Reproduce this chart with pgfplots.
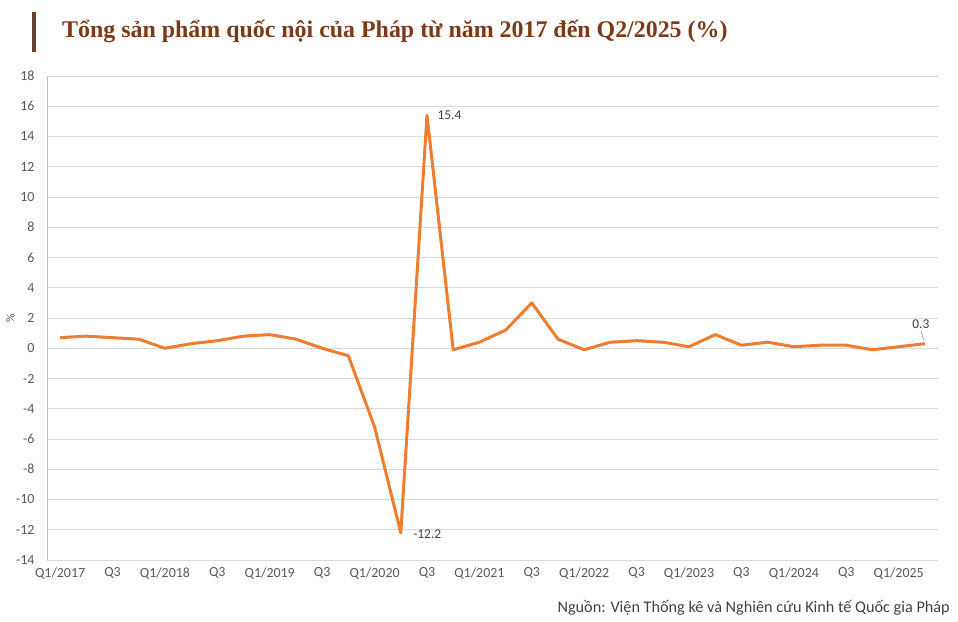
\documentclass[border=0pt]{standalone}
\usepackage{pgfplots}
\pgfplotsset{compat=1.18}
\usepackage{fontspec}
\setmainfont{Carlito}
\newfontfamily\titlefont{Liberation Serif}
\usetikzlibrary{calc}
\definecolor{gdpline}{HTML}{ED7D31}
\definecolor{titlebrown}{HTML}{7B3A17}
\definecolor{titlebar}{HTML}{654232}
\definecolor{gridgray}{HTML}{D9D9D9}
\definecolor{axistan}{HTML}{DDB992}
\definecolor{ticktext}{HTML}{595959}
\definecolor{labeltext}{HTML}{404040}

\pgfplotstableread{
idx val
0 0.7
1 0.8
2 0.7
3 0.6
4 0.0
5 0.3
6 0.5
7 0.8
8 0.9
9 0.6
10 0.0
11 -0.5
12 -5.2
13 -12.2
14 15.4
15 -0.1
16 0.4
17 1.2
18 3.0
19 0.6
20 -0.1
21 0.4
22 0.5
23 0.4
24 0.1
25 0.9
26 0.2
27 0.4
28 0.1
29 0.2
30 0.2
31 -0.1
32 0.1
33 0.3
}\gdp

\begin{document}
\begin{tikzpicture}
\begin{axis}[
    width=891bp, height=484bp, scale only axis,
    xmin=-0.5, xmax=33.5, ymin=-14, ymax=18,
    ytick={-14,-12,...,18},
    xtick={0,2,...,32},
    xticklabels={Q1/2017,Q3,Q1/2018,Q3,Q1/2019,Q3,Q1/2020,Q3,Q1/2021,Q3,Q1/2022,Q3,Q1/2023,Q3,Q1/2024,Q3,Q1/2025},
    axis x line=bottom, axis y line=left,
    x axis line style={-, draw=gridgray, line width=0.8pt},
    y axis line style={-, draw=axistan, line width=0.8pt},
    major tick length=0pt,
    ymajorgrids, grid style={draw=gridgray, line width=0.8pt},
    tick label style={font=\fontsize{14}{16}\selectfont, text=ticktext},
    yticklabel style={xshift=-9bp},
    xticklabel style={yshift=-4bp},
    /pgf/number format/assume math mode=true,
    ylabel={\%},
    ylabel style={at={(axis description cs:-0.041,0.5)}, anchor=center,
                  font=\fontsize{12}{14}\selectfont, text=ticktext},
    clip=false,
]
\addplot[gdpline, line width=3bp, line join=round, mark=none] table[x=idx, y=val] {\gdp};
\node[anchor=west, text=labeltext, font=\fontsize{13.5}{15}\selectfont, xshift=7bp] at (axis cs:14,15.4) {15.4};
\node[anchor=west, text=labeltext, font=\fontsize{13.5}{15}\selectfont, xshift=9bp, yshift=-1bp] at (axis cs:13,-12.2) {-12.2};
\draw[gray, line width=0.5pt] (axis cs:33,0.3) ++(-1bp,3bp) -- ++(-3bp,10bp);
\node[anchor=south, text=labeltext, font=\fontsize{13.5}{15}\selectfont, xshift=-4bp, yshift=12bp] at (axis cs:33,0.3) {0.3};
\coordinate (ll) at (rel axis cs:0,0);
\end{axis}
\pgfresetboundingbox
\path ($(ll)+(-47bp,-62bp)$) coordinate (pic) rectangle ++(958bp,622bp);
\fill[titlebar] ($(pic)+(32bp,570bp)$) rectangle ++(4bp,40bp);
\node[anchor=west, inner sep=0, text=titlebrown,
      font=\titlefont\bfseries\fontsize{24}{27}\selectfont] at ($(pic)+(62bp,591bp)$)
  {Tổng sản phẩm quốc nội của Pháp từ năm 2017 đến Q2/2025 (\%)};
\node[anchor=east, inner sep=0, text=labeltext, font=\fontsize{16.3}{18}\selectfont] at ($(pic)+(950bp,14bp)$) {Nguồn: Viện Thống kê và Nghiên cứu Kinh tế Quốc gia Pháp};
\end{tikzpicture}
\end{document}
